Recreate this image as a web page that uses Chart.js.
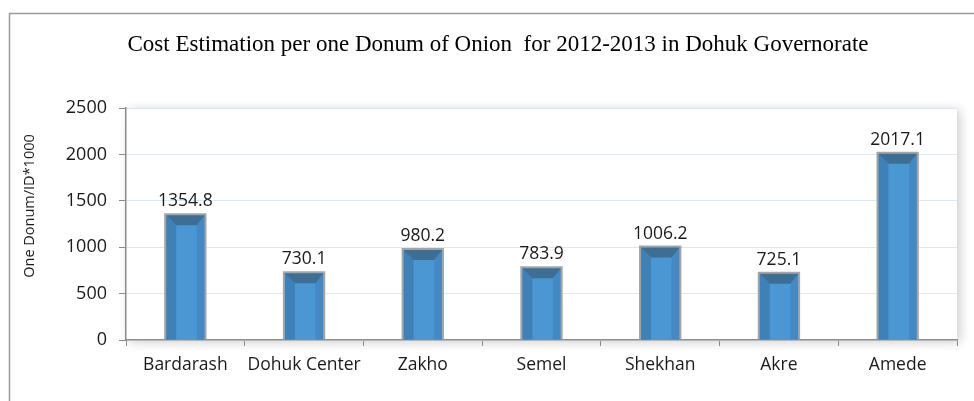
<!DOCTYPE html>
<html>
<head>
<meta charset="utf-8">
<script src="https://cdn.jsdelivr.net/npm/chart.js@4/dist/chart.umd.min.js"></script>
<style>
  html, body { margin: 0; padding: 0; background: #ffffff; }
  #wrap { width: 974px; height: 401px; position: relative; }
</style>
</head>
<body>
<div id="wrap"><canvas id="c" width="974" height="401"></canvas></div>
<script>
// Districts and cost per donum (ID*1000)
const districts = ['Bardarash', 'Dohuk Center', 'Zakho', 'Semel', 'Shekhan', 'Akre', 'Amede'];
const costs = [1354.8, 730.1, 980.2, 783.9, 1006.2, 725.1, 2017.1];
const yTicks = [0, 500, 1000, 1500, 2000, 2500];

const chartTitle = 'Cost Estimation per one Donum of Onion  for 2012-2013 in Dohuk Governorate';
const yTitle = 'One Donum/ID*1000';

const LABEL_FONT = "'Open Sans', 'Liberation Sans', sans-serif";
const TITLE_FONT = "'Liberation Serif', 'Times New Roman', serif";

// Outer frame, soft shadow behind the plot area, headings
const framePlugin = {
  id: 'frame',
  beforeDraw(chart) {
    const ctx = chart.ctx;
    const a = chart.chartArea;
    ctx.save();
    ctx.fillStyle = '#ffffff';
    ctx.fillRect(0, 0, chart.width, chart.height);
    ctx.strokeStyle = '#9a9a9a';
    ctx.lineWidth = 1.5;
    ctx.beginPath();
    ctx.moveTo(9.5, chart.height + 2);
    ctx.lineTo(9.5, 13.5);
    ctx.lineTo(chart.width + 2, 13.5);
    ctx.stroke();
    ctx.shadowColor = 'rgba(0,0,0,0.2)';
    ctx.shadowBlur = 10;
    ctx.shadowOffsetX = 3;
    ctx.shadowOffsetY = 2;
    ctx.fillStyle = '#ffffff';
    ctx.fillRect(a.left, a.top, a.right - a.left, a.bottom - a.top);
    ctx.restore();
  },
  afterDraw(chart) {
    const ctx = chart.ctx;
    ctx.save();
    // chart heading
    ctx.fillStyle = '#000000';
    ctx.font = '23px ' + TITLE_FONT;
    ctx.textAlign = 'center';
    ctx.textBaseline = 'alphabetic';
    ctx.fillText(chartTitle, 498, 51);
    // vertical axis caption
    ctx.translate(30, 206);
    ctx.rotate(-Math.PI / 2);
    ctx.fillStyle = '#1a1a1a';
    ctx.font = '14.5px ' + LABEL_FONT;
    ctx.textAlign = 'center';
    ctx.textBaseline = 'middle';
    ctx.fillText(yTitle, 0, 0);
    ctx.restore();
  }
};

// Bevelled look for each bar plus its value label
const bevelPlugin = {
  id: 'bevel',
  afterDatasetsDraw(chart) {
    const ctx = chart.ctx;
    const meta = chart.getDatasetMeta(0);
    meta.data.forEach((bar, i) => {
      const p = bar.getProps(['x', 'y', 'width', 'base'], true);
      const l = p.x - p.width / 2, r = p.x + p.width / 2;
      const t = p.y, b = p.base;
      const bv = Math.min(11, (b - t) / 2);
      ctx.save();
      // left face
      ctx.fillStyle = '#3f80b6';
      ctx.beginPath();
      ctx.moveTo(l, t); ctx.lineTo(l + bv, t + bv); ctx.lineTo(l + bv, b); ctx.lineTo(l, b);
      ctx.closePath(); ctx.fill();
      // right face
      ctx.fillStyle = '#4489c3';
      ctx.beginPath();
      ctx.moveTo(r, t); ctx.lineTo(r - bv * 0.8, t + bv); ctx.lineTo(r - bv * 0.8, b); ctx.lineTo(r, b);
      ctx.closePath(); ctx.fill();
      // top face
      ctx.fillStyle = '#3e6e94';
      ctx.beginPath();
      ctx.moveTo(l, t); ctx.lineTo(r, t); ctx.lineTo(r - bv * 0.8, t + bv); ctx.lineTo(l + bv, t + bv);
      ctx.closePath(); ctx.fill();
      // rim
      ctx.strokeStyle = '#a3a6a9';
      ctx.lineWidth = 2;
      ctx.beginPath();
      ctx.moveTo(l, b); ctx.lineTo(l, t); ctx.lineTo(r, t); ctx.lineTo(r, b);
      ctx.stroke();
      // value label
      ctx.fillStyle = '#1a1a1a';
      ctx.font = '17.5px ' + LABEL_FONT;
      ctx.textAlign = 'center';
      ctx.textBaseline = 'alphabetic';
      ctx.fillText(costs[i].toFixed(1), p.x, t - 8);
      ctx.restore();
    });
  }
};

new Chart(document.getElementById('c'), {
  type: 'bar',
  data: {
    labels: districts,
    datasets: [{
      data: costs,
      backgroundColor: '#4a97d4',
      borderWidth: 0,
      barPercentage: 0.34,
      categoryPercentage: 1.0
    }]
  },
  options: {
    responsive: false,
    animation: false,
    events: [],
    layout: { padding: { left: 0, right: 17, top: 108, bottom: 21 } },
    plugins: {
      legend: { display: false },
      tooltip: { enabled: false },
      title: { display: false }
    },
    scales: {
      x: {
        grid: {
          display: true,
          drawOnChartArea: false,
          drawTicks: true,
          tickLength: 6,
          tickColor: '#8c8c8c',
          offset: true
        },
        border: { display: true, color: '#8c8c8c', width: 1.5 },
        ticks: {
          color: '#1a1a1a',
          font: { family: LABEL_FONT, size: 17.5 },
          padding: 9,
          maxRotation: 0,
          autoSkip: false
        },
        afterFit(scale) { scale.height = 40; }
      },
      y: {
        min: 0,
        max: 2500,
        afterBuildTicks(scale) { scale.ticks = yTicks.map(v => ({ value: v })); },
        grid: {
          color: '#dde7f1',
          lineWidth: 1,
          tickLength: 7,
          tickColor: '#8c8c8c'
        },
        border: { display: true, color: '#8c8c8c', width: 1.5 },
        ticks: {
          color: '#1a1a1a',
          font: { family: LABEL_FONT, size: 18 },
          padding: 12,
          callback: v => String(v)
        },
        afterFit(scale) { scale.width = 126; }
      }
    }
  },
  plugins: [framePlugin, bevelPlugin]
});
</script>
</body>
</html>
